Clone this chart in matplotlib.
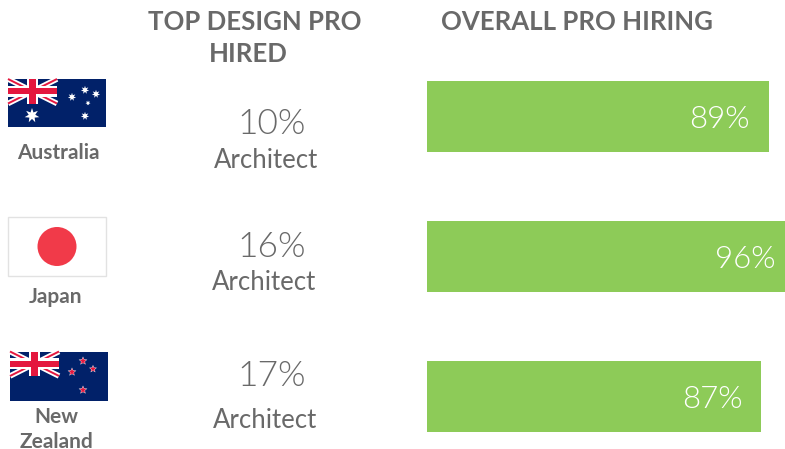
import math

import matplotlib

matplotlib.use("Agg")

import matplotlib.pyplot as plt
from matplotlib.patches import Circle, Polygon, Rectangle

W, H = 785, 449

countries = ["Australia", "Japan", "New\nZealand"]
overall_hiring = [89, 96, 87]
top_pro_share = [10, 16, 17]
top_pro_name = ["Architect", "Architect", "Architect"]

GREEN = "#8dcb58"
GRAY = "#696969"
NAVY = "#012169"
RED = "#e4173e"

plt.rcParams["font.family"] = ["Lato", "DejaVu Sans"]

fig = plt.figure(figsize=(W / 100, H / 100), dpi=100)
fig.patch.set_facecolor("white")

# bars get their own axes, 96% runs off the right edge like the original
bar_ax = fig.add_axes([427 / W, 0, 358 / W, 1], zorder=1)
bar_ax.set_xlim(0, 358 / 3.84)
bar_ax.set_ylim(H, 0)
bar_ax.axis("off")

# full figure axes in pixel coordinates for the flags and text
ax = fig.add_axes([0, 0, 1, 1], zorder=2)
ax.set_xlim(0, W)
ax.set_ylim(H, 0)
ax.axis("off")
ax.patch.set_visible(False)

bar_y = [116.5, 256.5, 396.5]
bar_ax.barh(bar_y, overall_hiring, height=71, color=GREEN, linewidth=0)

label_x = [719, 745, 712]
for val, y, x in zip(overall_hiring, bar_y, label_x):
    ax.text(x, y + 2.5, f"{val}%", color="white", fontsize=22.5, fontweight=300,
            ha="center", va="center", zorder=5)

ax.text(255, 22, "TOP DESIGN PRO", color=GRAY, fontsize=18.5, fontweight="bold", ha="center", va="center")
ax.text(248, 54, "HIRED", color=GRAY, fontsize=18.5, fontweight="bold", ha="center", va="center")
ax.text(577, 22, "OVERALL PRO HIRING", color=GRAY, fontsize=18.5, fontweight="bold", ha="center", va="center")

pct_pos = [(272, 124), (272, 247), (272, 376)]
name_pos = [(266, 160), (264, 282), (265, 420)]
for val, name, p, n in zip(top_pro_share, top_pro_name, pct_pos, name_pos):
    ax.text(p[0], p[1], f"{val}%", color=GRAY, fontsize=25.5, fontweight=300, ha="center", va="center")
    ax.text(n[0], n[1], name, color=GRAY, fontsize=18.5, ha="center", va="center")


def star(cx, cy, r, color, n=7, inner=0.45, z=3):
    pts = []
    for i in range(n * 2):
        rad = r if i % 2 == 0 else r * inner
        a = -math.pi / 2 + i * math.pi / n
        pts.append((cx + rad * math.cos(a), cy + rad * math.sin(a)))
    ax.add_patch(Polygon(pts, closed=True, facecolor=color, edgecolor="none", zorder=z))


def union_jack(x, y, w, h):
    ax.add_patch(Rectangle((x, y), w, h, facecolor=NAVY, edgecolor="none", zorder=2))
    ax.plot([x, x + w], [y, y + h], color="white", lw=4, solid_capstyle="butt", zorder=3)
    ax.plot([x, x + w], [y + h, y], color="white", lw=4, solid_capstyle="butt", zorder=3)
    ax.plot([x, x + w], [y, y + h], color=RED, lw=1.4, solid_capstyle="butt", zorder=3)
    ax.plot([x, x + w], [y + h, y], color=RED, lw=1.4, solid_capstyle="butt", zorder=3)
    ax.add_patch(Rectangle((x + w / 2 - 5.5, y), 11, h, facecolor="white", edgecolor="none", zorder=3))
    ax.add_patch(Rectangle((x, y + h / 2 - 5.5), w, 11, facecolor="white", edgecolor="none", zorder=3))
    ax.add_patch(Rectangle((x + w / 2 - 3.2, y), 6.4, h, facecolor=RED, edgecolor="none", zorder=4))
    ax.add_patch(Rectangle((x, y + h / 2 - 3.2), w, 6.4, facecolor=RED, edgecolor="none", zorder=4))


# Australia
ax.add_patch(Rectangle((8, 79), 98, 48, facecolor=NAVY, edgecolor="none", zorder=2))
union_jack(8, 79, 49, 24.5)
star(32, 115.5, 7.5, "white")
for cx, cy, r in [(72, 97, 4.2), (85, 90, 4.2), (96, 94, 4.2), (88, 103, 2.6), (85, 116, 4.2)]:
    star(cx, cy, r, "white")

# Japan
ax.add_patch(Rectangle((7.5, 217), 98, 59, facecolor="white", edgecolor="#e2e2e2", linewidth=1, zorder=2))
ax.add_patch(Circle((57, 246.5), 19.5, facecolor="#f13a49", edgecolor="none", zorder=3))

# New Zealand
ax.add_patch(Rectangle((10, 351.5), 98, 49, facecolor=NAVY, edgecolor="none", zorder=2))
union_jack(10, 351.5, 49, 24.5)
for cx, cy, r in [(83, 361, 3.6), (72, 372, 3.6), (93, 369, 3.2), (83, 390, 3.6)]:
    star(cx, cy, r + 0.9, "white", n=5)
    star(cx, cy, r, RED, n=5, z=4)

flag_labels = [(58, 153), (56, 297), (56, 429.5)]
for c, (x, y) in zip(countries, flag_labels):
    ax.text(x, y, c, color=GRAY, fontsize=15, fontweight="bold", ha="center", va="center", linespacing=1.3)

fig.savefig("out.png", dpi=100)
